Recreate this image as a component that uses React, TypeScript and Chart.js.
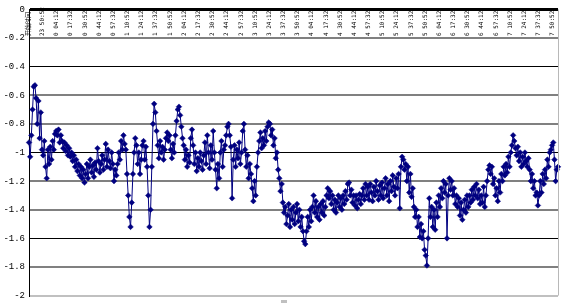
import React, { useEffect, useRef } from 'react';
import { Chart, registerables } from 'chart.js';

Chart.register(...registerables);

// Category tick labels (one every POINTS_PER_TICK samples)
const tickLabels: string[] = [
  '开始时间',
  '23 50:52', '0 04:12', '0 17:32', '0 30:52', '0 44:12', '0 57:32',
  '1 10:52', '1 24:12', '1 37:32', '1 50:52',
  '2 04:12', '2 17:32', '2 30:52', '2 44:12', '2 57:32',
  '3 10:52', '3 24:12', '3 37:32', '3 50:52',
  '4 04:12', '4 17:32', '4 30:52', '4 44:12', '4 57:32',
  '5 10:52', '5 24:12', '5 37:32', '5 50:52',
  '6 04:12', '6 17:32', '6 30:52', '6 44:12', '6 57:32',
  '7 10:52', '7 24:12', '7 37:32', '7 50:52',
];

const POINTS_PER_TICK = 12;

// Series values (12 samples per labelled interval)
const seriesA: number[] = [
  -0.93, -1.03, -0.88, -0.7, -0.54, -0.53, -0.62, -0.8, -0.64, -0.9, -0.72, -0.98,
  -1.02, -0.92, -1.1, -1.18, -0.98, -1.08, -0.96, -1.05, -0.92, -0.98, -0.87, -0.85,
  -0.88, -0.84, -0.93, -0.88, -0.92, -0.97, -0.93, -0.99, -0.95, -1.02, -0.97, -1.03,
  -1.0, -1.06, -1.02, -1.1, -1.05, -1.13, -1.08, -1.16, -1.1, -1.18, -1.12, -1.21,
  -1.15, -1.08, -1.18, -1.1, -1.05, -1.14, -1.09, -1.17, -1.07, -1.12, -0.97, -1.06,
  -1.14, -1.08, -1.02, -1.12, -1.05, -0.94, -1.1, -0.98, -1.06, -1.11, -1.0, -1.08,
  -1.2, -1.12, -1.16, -1.08, -1.0, -1.05, -0.92, -0.98, -0.88, -0.94, -0.98, -1.15,
  -1.3, -1.45, -1.52, -1.35, -1.15, -1.0, -0.9, -0.95, -1.08, -1.0, -1.15, -1.05,
  -0.95, -0.92, -1.05, -0.96, -1.1, -1.3, -1.52, -1.4, -1.1, -0.8, -0.66, -0.72,
  -0.85, -0.95, -1.04, -0.92, -1.0, -0.96, -1.05, -0.98, -0.9, -0.86, -0.92, -0.88,
  -0.98, -1.04, -0.94, -1.0, -0.88, -0.78, -0.7, -0.68, -0.74, -0.82, -0.9, -0.95,
  -1.05, -0.98, -1.1, -1.02, -1.07, -0.9, -0.84, -0.95, -1.08, -1.0, -1.13, -1.04,
  -1.1, -1.0, -1.06, -1.12, -1.02, -0.93, -1.08, -0.88, -1.0, -1.11, -0.95, -1.05,
  -0.85, -1.0, -1.12, -1.25, -1.08, -1.18, -1.0, -0.92, -1.1, -0.98, -0.95, -0.88,
  -0.82, -0.8, -0.88, -0.96, -1.32, -1.05, -0.95, -1.1, -0.98, -1.04, -0.93, -1.08,
  -1.0, -0.85, -0.8, -0.98, -1.1, -1.02, -1.18, -1.08, -1.15, -1.25, -1.34, -1.2,
  -1.3, -1.1, -1.0, -0.92, -0.86, -0.97, -0.9, -0.95, -0.85, -0.92, -0.82, -0.79,
  -0.8, -0.88, -0.84, -0.95, -0.9, -1.04, -1.0, -1.12, -1.18, -1.27, -1.22, -1.35,
  -1.42, -1.38, -1.5, -1.44, -1.36, -1.52, -1.4, -1.47, -1.38, -1.5, -1.42, -1.36,
  -1.48, -1.4, -1.52, -1.45, -1.55, -1.62, -1.64, -1.55, -1.45, -1.52, -1.4, -1.48,
  -1.38, -1.3, -1.42, -1.34, -1.45, -1.38, -1.47, -1.36, -1.42, -1.34, -1.44, -1.38,
  -1.3, -1.25, -1.32, -1.27, -1.36, -1.3, -1.4, -1.33, -1.42, -1.35, -1.3, -1.38,
  -1.32, -1.4, -1.3, -1.36, -1.27, -1.33, -1.22, -1.21, -1.3, -1.26, -1.35, -1.3,
  -1.37, -1.3, -1.39, -1.33, -1.29, -1.36, -1.3, -1.25, -1.33, -1.22, -1.3, -1.24,
  -1.33, -1.22, -1.28, -1.34, -1.24, -1.3, -1.2, -1.27, -1.33, -1.23, -1.3, -1.21,
  -1.32, -1.25, -1.18, -1.3, -1.22, -1.34, -1.2, -1.27, -1.16, -1.24, -1.3, -1.18,
  -1.25, -1.15, -1.39, -1.1, -1.03, -1.05, -1.12, -1.08, -1.2, -1.1, -1.28, -1.15,
  -1.31, -1.25, -1.38, -1.45, -1.4, -1.52, -1.45, -1.59, -1.5, -1.6, -1.55, -1.68,
  -1.72, -1.79, -1.6, -1.32, -1.45, -1.38, -1.52, -1.4, -1.54, -1.35, -1.45, -1.3,
  -1.38, -1.25, -1.32, -1.2, -1.28, -1.22, -1.6, -1.3, -1.18, -1.26, -1.2, -1.3,
  -1.25, -1.36, -1.3, -1.38, -1.32, -1.44, -1.35, -1.47, -1.4, -1.33, -1.42, -1.3,
  -1.38, -1.3, -1.35, -1.26, -1.33, -1.24, -1.3, -1.22, -1.32, -1.26, -1.36, -1.3,
  -1.35, -1.24, -1.38, -1.3, -1.2, -1.12, -1.09, -1.15, -1.1, -1.22, -1.18, -1.3,
  -1.25, -1.34, -1.2, -1.28, -1.15, -1.2, -1.1, -1.16, -1.08, -1.14, -1.03, -1.1,
  -1.0, -0.95, -0.88, -0.92, -0.97, -1.02, -0.96, -1.06, -1.0, -1.1, -1.03, -1.08,
  -1.0, -1.06, -1.1, -1.04, -1.12, -1.2, -1.15, -1.25, -1.2, -1.3, -1.28, -1.37,
  -1.3, -1.2, -1.28, -1.15, -1.22, -1.12, -1.18, -1.05, -1.1, -1.0, -0.98, -0.95,
  -0.93, -1.05, -1.2, -1.12, -1.1,
];

const yMin = -2;
const yMax = 0;
const yStep = 0.2;

const framePlugin = {
  id: 'frame',
  afterLayout(chart: any) {
    // let the top category labels hang down inside the plot, as in the original
    const xs = chart.scales.x;
    xs.bottom = 40;
  },
  afterDraw(chart: any) {
    const { ctx, chartArea } = chart;
    ctx.save();
    ctx.strokeStyle = '#b8b8b8';
    ctx.lineWidth = 1;
    ctx.beginPath();
    ctx.moveTo(chartArea.right + 0.5, chartArea.top);
    ctx.lineTo(chartArea.right + 0.5, chartArea.bottom);
    ctx.stroke();
    // empty legend key
    ctx.fillStyle = '#c0c0c0';
    ctx.fillRect(281, 300, 6, 3);
    ctx.restore();
  },
};

export default function App() {
  const ref = useRef<HTMLCanvasElement>(null);

  useEffect(() => {
    document.body.style.margin = '0';
    const labels = seriesA.map((_, i) =>
      i % POINTS_PER_TICK === 0 && tickLabels[i / POINTS_PER_TICK] !== undefined
        ? tickLabels[i / POINTS_PER_TICK]
        : ''
    );
    const gridKind = (v: number) => {
      const k = Math.round(-v * 10);
      if (k === 0) return 'top';
      if (k === 4 || k === 10 || k === 16) return 'black';
      if (k === 20) return 'light';
      return 'gray';
    };
    const chart = new Chart(ref.current as HTMLCanvasElement, {
      type: 'line',
      data: {
        labels,
        datasets: [
          {
            label: '',
            data: seriesA,
            borderColor: '#000080',
            borderWidth: 1,
            pointStyle: 'rectRot',
            pointRadius: 2.8,
            pointBackgroundColor: '#000080',
            pointBorderColor: '#000080',
            pointBorderWidth: 0.5,
            tension: 0,
          },
        ],
      },
      options: {
        animation: false,
        responsive: false,
        layout: { padding: { left: 0, right: 6, top: 0, bottom: 7 } },
        plugins: { legend: { display: false }, tooltip: { enabled: false } },
        scales: {
          x: {
            type: 'category',
            position: 'top',
            offset: false,
            grid: { display: false, drawTicks: false },
            border: { display: false },
            ticks: {
              autoSkip: false,
              minRotation: 90,
              maxRotation: 90,
              padding: 4,
              color: '#000',
              font: { family: "'DejaVu Sans Mono', 'Noto Sans CJK SC'", size: 6, lineHeight: 0.1 },
            },
            afterFit: (s: any) => {
              s.height = 3;
            },
          },
          y: {
            min: yMin,
            max: yMax,
            ticks: {
              stepSize: yStep,
              padding: 4,
              color: '#000',
              font: { family: "'Liberation Mono', 'DejaVu Sans Mono'", size: 9 },
              callback: (v: any) => String(Math.round(Number(v) * 10) / 10),
            },
            grid: {
              drawTicks: false,
              color: (c: any) => {
                const k = gridKind(c.tick ? c.tick.value : 0);
                return k === 'black' || k === 'top' ? '#000' : k === 'light' ? '#c0c0c0' : '#808080';
              },
              lineWidth: (c: any) => {
                const k = gridKind(c.tick ? c.tick.value : 0);
                return k === 'black' ? 1 : k === 'top' ? 3 : 2;
              },
            },
            border: { display: true, color: '#000', width: 1 },
            afterFit: (s: any) => {
              s.width = 29;
            },
          },
        },
      },
      plugins: [framePlugin],
    });
    return () => chart.destroy();
  }, []);

  return (
    <div style={{ width: 564, height: 305, background: '#fff' }}>
      <canvas ref={ref} width={564} height={305} style={{ display: 'block' }} />
    </div>
  );
}
